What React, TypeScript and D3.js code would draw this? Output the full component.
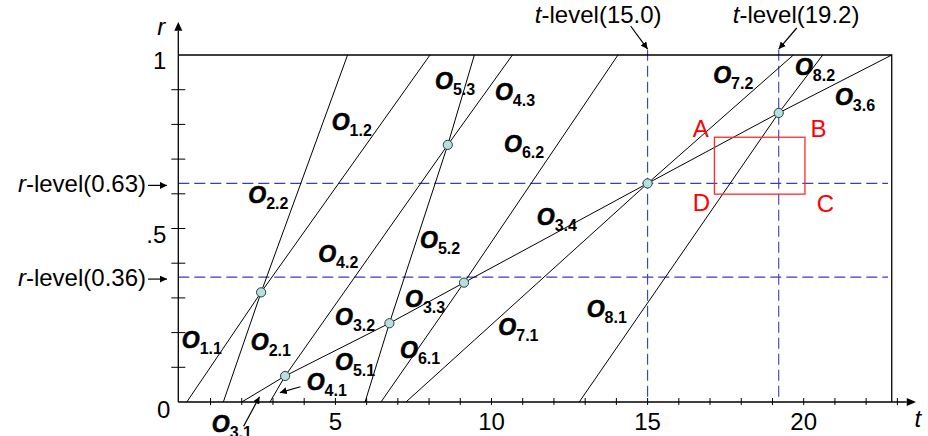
import React from "react";
import * as d3 from "d3";

const WIDTH = 928;
const HEIGHT = 436;

// ---------- axis data ----------
const tickT = [1, 2, 3, 4, 5, 6, 7, 8, 9, 10, 11, 12, 13, 14, 15, 16, 17, 18, 19, 20, 21, 22, 23];
const tickLabelT = [5, 10, 15, 20];
const tickR = [0.1, 0.2, 0.3, 0.4, 0.5, 0.6, 0.7, 0.8, 0.9];
const tickLabelR = [1, 0.5, 0];
const tickLabelRText = ["1", ".5", "0"];
const frameT = 22.82; // right edge of the frame

// ---------- levels ----------
const tLevels = [15.0, 19.2];
const rLevels = [0.63, 0.36];

// ---------- crossing points (circles) ----------
const crossingIds = ["P1", "P2", "P3", "P4", "P5", "P6", "P7"];
const crossingT = [2.62, 3.39, 6.73, 8.6, 9.12, 15.0, 19.2];
const crossingR = [0.316, 0.075, 0.227, 0.741, 0.344, 0.63, 0.833];

// ---------- boundary lines: start at r=0, end at r=1, through crossings ----------
const lineStartT = [0.24, 1.41, 2.0, 2.905, 5.95, 6.46, 7.26, 12.81];
const lineEndT = [8.03, 5.39, 22.82, 10.67, 9.45, 14.05, 19.67, 20.61];
const lineCrossings = [
  ["P1"],
  ["P1"],
  ["P2", "P3", "P5", "P6", "P7"],
  ["P2", "P4"],
  ["P3", "P4"],
  ["P5"],
  ["P6"],
  ["P7"],
];

// ---------- region labels O_{i.j} ----------
const labelSub = ["1.1", "1.2", "2.1", "2.2", "3.1", "3.2", "3.3", "3.4", "3.6", "4.1", "4.2", "4.3", "5.1", "5.2", "5.3", "6.1", "6.2", "7.1", "7.2", "8.1", "8.2"];
const labelT = [0.08, 4.88, 2.29, 2.21, 1.04, 4.99, 7.23, 11.45, 21.0, 4.08, 4.45, 10.11, 4.99, 7.71, 8.19, 7.07, 10.4, 10.22, 17.1, 13.05, 19.72];
const labelR = [0.156, 0.784, 0.15, 0.573, -0.086, 0.222, 0.275, 0.51, 0.856, 0.035, 0.404, 0.87, 0.092, 0.443, 0.902, 0.126, 0.721, 0.193, 0.918, 0.246, 0.942];

// pointer arrows for two labels (from label to line)
const pointerFromT = [2.06, 3.88];
const pointerFromR = [-0.07, 0.044];
const pointerToT = [2.57, 3.22];
const pointerToR = [0.015, 0.027];

// ---------- rectangle ABCD ----------
const boxT = [17.14, 20.04];
const boxR = [0.599, 0.763];
const cornerText = ["A", "B", "C", "D"];
const cornerT = [16.45, 20.22, 20.42, 16.45];
const cornerR = [0.764, 0.764, 0.548, 0.55];

const FONT = "'Liberation Sans', Arial, Helvetica, sans-serif";
const DASH_COLOR = "#3a3ac4";

export default function App() {
  const x = d3.scaleLinear().domain([0, 23]).range([179.3, 179.3 + 31.22 * 23]);
  const y = d3.scaleLinear().domain([0, 1]).range([402, 55]);

  const axisX = x(0) - 1;
  const axisY = y(0);

  const pt = (id: string) => {
    const i = crossingIds.indexOf(id);
    return [crossingT[i], crossingR[i]] as [number, number];
  };

  const lineGen = d3
    .line<[number, number]>()
    .x((d) => x(d[0]))
    .y((d) => y(d[1]));

  const linePaths = lineStartT.map((s, i) => {
    const pts: [number, number][] = [[s, 0], ...lineCrossings[i].map(pt), [lineEndT[i], 1]];
    return lineGen(pts) as string;
  });

  return (
    <svg
      width={WIDTH}
      height={HEIGHT}
      style={{ position: "absolute", left: 0, top: 0, background: "#fff" }}
      fontFamily={FONT}
    >
      <defs>
        <marker id="ah" viewBox="0 0 10 10" refX="10" refY="5" markerWidth="7" markerHeight="7" orient="auto" markerUnits="userSpaceOnUse">
          <path d="M0,0 L10,5 L0,10 z" fill="#000" />
        </marker>
      </defs>
      <rect x={0} y={0} width={WIDTH} height={HEIGHT} fill="#fff" />

      {/* dashed level lines */}
      {rLevels.map((v) => (
        <line key={"rl" + v} x1={axisX} x2={x(22.7)} y1={y(v)} y2={y(v)} stroke={DASH_COLOR} strokeWidth={1.1} strokeDasharray="11,5" />
      ))}
      {tLevels.map((v) => (
        <line key={"tl" + v} x1={x(v)} x2={x(v)} y1={y(1.015)} y2={axisY} stroke={DASH_COLOR} strokeWidth={1.1} strokeDasharray="11,5" />
      ))}

      {/* frame: top and right */}
      <path d={`M${axisX},${y(1)} H${x(frameT)} V${axisY}`} fill="none" stroke="#000" strokeWidth={1.3} />

      {/* axes */}
      <line x1={axisX} x2={axisX} y1={axisY} y2={y(1.07)} stroke="#000" strokeWidth={1.3} />
      <path d={`M${axisX},${y(1.095)} L${axisX - 4},${y(1.07)} L${axisX + 4},${y(1.07)} z`} fill="#000" />
      <line x1={axisX} x2={x(23.3)} y1={axisY} y2={axisY} stroke="#000" strokeWidth={1.3} />
      <path d={`M${x(23.6)},${axisY} L${x(23.3)},${axisY - 4} L${x(23.3)},${axisY + 4} z`} fill="#000" />

      {tickT.map((t) => (
        <line key={"tt" + t} x1={x(t)} x2={x(t)} y1={axisY - 4} y2={axisY + 3} stroke="#000" strokeWidth={1} />
      ))}
      {tickR.map((r) => (
        <line key={"tr" + r} x1={axisX - 7} x2={axisX + 7} y1={y(r)} y2={y(r)} stroke="#000" strokeWidth={1} />
      ))}
      {tickLabelT.map((t) => (
        <text key={"ttl" + t} x={x(t)} y={axisY + 28} fontSize={24} textAnchor="middle" fill="#000">
          {t}
        </text>
      ))}
      {tickLabelR.map((r, i) => (
        <text key={"trl" + r} x={axisX - 12 + (r === 0 ? 4 : 0)} y={y(r) + (r === 0 ? 16 : 14)} fontSize={24} textAnchor="end" fill="#000">
          {tickLabelRText[i]}
        </text>
      ))}
      <text x={axisX - 21} y={35} fontSize={24} fontStyle="italic" fill="#000">r</text>
      <text x={x(23.55)} y={427} fontSize={24} fontStyle="italic" fill="#000">t</text>

      {/* level labels */}
      {rLevels.map((v) => (
        <g key={"rlab" + v}>
          <text x={146} y={y(v) + 9} fontSize={24} textAnchor="end" fill="#000">
            <tspan fontStyle="italic">r</tspan>-level({v.toFixed(2)})
          </text>
          <line x1={148} x2={167} y1={y(v) + 2} y2={y(v) + 2} stroke="#000" strokeWidth={1.2} markerEnd="url(#ah)" />
        </g>
      ))}
      {tLevels.map((v, i) => (
        <g key={"tlab" + v}>
          <text x={i === 0 ? x(v) + 14 : x(v) - 46} y={23} fontSize={24} textAnchor={i === 0 ? "end" : "start"} fill="#000">
            <tspan fontStyle="italic">t</tspan>-level({v.toFixed(1)})
          </text>
          <line x1={x(v) + (i === 0 ? -17 : 18)} y1={i === 0 ? 26 : 28} x2={x(v)} y2={y(1.017)} stroke="#000" strokeWidth={1.2} markerEnd="url(#ah)" />
        </g>
      ))}

      {/* boundary lines */}
      {linePaths.map((d, i) => (
        <path key={"ln" + i} d={d} fill="none" stroke="#000" strokeWidth={1} />
      ))}

      {/* rectangle ABCD */}
      <rect x={x(boxT[0])} y={y(boxR[1])} width={x(boxT[1]) - x(boxT[0])} height={y(boxR[0]) - y(boxR[1])} fill="none" stroke="#ff2a2a" strokeWidth={1.3} />
      {cornerText.map((c, i) => (
        <text key={"c" + c} x={x(cornerT[i])} y={y(cornerR[i])} fontSize={24} fill="#ff0000">
          {c}
        </text>
      ))}

      {/* crossing circles */}
      {crossingIds.map((id, i) => (
        <circle key={id} cx={x(crossingT[i])} cy={y(crossingR[i])} r={4.6} fill="#b6dfdf" stroke="#2b3f3f" strokeWidth={1} />
      ))}

      {/* pointer arrows */}
      {pointerFromT.map((t, i) => (
        <line key={"pa" + i} x1={x(t)} y1={y(pointerFromR[i])} x2={x(pointerToT[i])} y2={y(pointerToR[i])} stroke="#000" strokeWidth={1.2} markerEnd="url(#ah)" />
      ))}

      {/* region labels */}
      {labelSub.map((s, i) => (
        <text key={"lab" + s} x={x(labelT[i])} y={y(labelR[i])} fontWeight="bold" fill="#000">
          <tspan fontSize={23} fontStyle="italic" stroke="#000" strokeWidth={0.6}>O</tspan>
          <tspan fontSize={16} dy={6} dx={0}>{s}</tspan>
        </text>
      ))}
    </svg>
  );
}
